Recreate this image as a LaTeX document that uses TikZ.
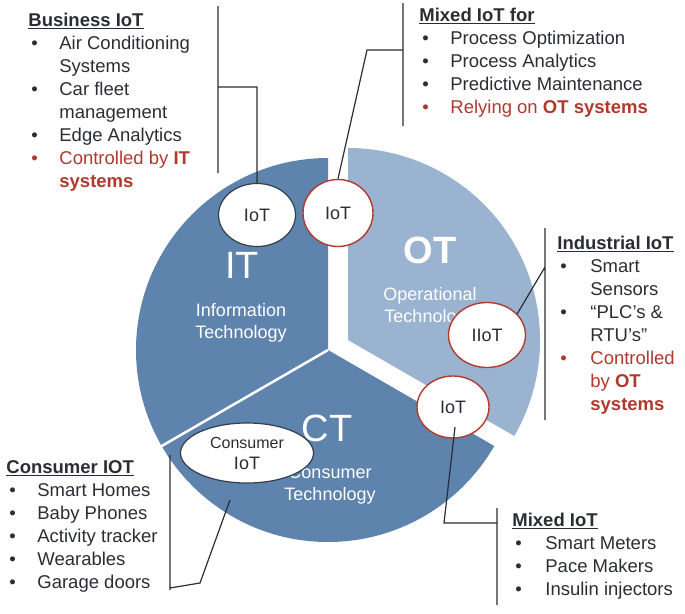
\documentclass[tikz,border=0pt]{standalone}
\usepackage{fontspec}
\setmainfont{Liberation Sans}
\usetikzlibrary{shapes.geometric}
\definecolor{sectorblue}{HTML}{5E83AC}
\definecolor{sectorlight}{HTML}{9AB3D0}
\definecolor{textdark}{HTML}{2A2D33}
\definecolor{textred}{HTML}{B0392E}
\definecolor{ringred}{HTML}{B33A2F}
\newcommand{\bul}{\hspace*{3pt}\textbullet}
\newcommand{\redbul}{\hspace*{3pt}\textcolor{textred}{\textbullet}}

\begin{document}
\begin{tikzpicture}[x=1pt, y=1pt,
	thick, list/.style={anchor=north west, inner sep=0pt, text=textdark,
		font=\fontsize{18.5}{23}\selectfont},
	red iot/.style={ellipse, draw=ringred, line width=1.4pt, fill=white, inner sep=0pt,
		text=textdark, font=\fontsize{18}{20}\selectfont},
	blue iot/.style={ellipse, draw=textdark!80!sectorblue, line width=1.2pt, fill=white, inner sep=0pt,
		text=textdark, font=\fontsize{18}{20}\selectfont},
	pie label/.style={text=white, align=center, font=\fontsize{18}{22}\selectfont},
	pie title/.style={text=white, font=\fontsize{38}{40}\selectfont},
	link/.style={draw=textdark, line width=1.2pt}]
	
	\useasboundingbox (0,0) rectangle (685,-613);
	
	% the three sectors
	\fill[sectorblue] (328,-350) -- ++(90:192) arc[start angle=90, end angle=330, radius=192] -- cycle;
	\fill[sectorlight] (348,-340) -- ++(-30:192) arc[start angle=-30, end angle=90, radius=192] -- cycle;
	\draw[white, line width=2.5pt] (328,-350) -- ++(210:194);
	
	\node[pie title] (it) at (242,-265) {IT};
	\node[pie label] (itname) at (241,-323) {Information\\Technology};
	\node[pie title, font=\bfseries\fontsize{38}{40}\selectfont] (ot) at (430,-250) {OT};
	\node[pie label] (otname) at (430,-307) {Operational\\Technology};
	\node[pie title] (ct) at (327,-428) {CT};
	\node[pie label] (ctname) at (330,-485) {Consumer\\Technology};
	
	% iot bubbles
	\node[blue iot, minimum width=77pt, minimum height=63pt] (itIoT) at (257,-215) {IoT};
	\node[red iot, minimum width=70pt, minimum height=67pt] (mixIoT) at (338,-213) {IoT};
	\node[red iot, minimum width=77pt, minimum height=65pt] (iIoT) at (487,-335) {IIoT};
	\node[red iot, minimum width=72pt, minimum height=62pt] (ctIoT) at (453,-407) {IoT};
	\node[blue iot, minimum width=133pt, minimum height=60pt, align=center,
		font=\fontsize{16}{21}\selectfont] (consIoT) at (247,-453) {Consumer\\\fontsize{18}{20}\selectfont IoT};
	
	% lists
	\node[list] (biz) at (28,-10) {\begin{tabular}{@{}p{31pt}@{}l@{}}
		\multicolumn{2}{@{}l}{\underline{\textbf{Business IoT}}}\\
		\bul & Air Conditioning\\
		 & Systems\\
		\bul & Car fleet\\
		 & management\\
		\bul & Edge Analytics\\
		\redbul & \textcolor{textred}{Controlled by \textbf{IT}}\\
		 & \textcolor{textred}{\textbf{systems}}
	\end{tabular}};
	\node[list] (mixfor) at (419,-5) {\begin{tabular}{@{}p{31pt}@{}l@{}}
		\multicolumn{2}{@{}l}{\underline{\textbf{Mixed IoT for}}}\\
		\bul & Process Optimization\\
		\bul & Process Analytics\\
		\bul & Predictive Maintenance\\
		\redbul & \textcolor{textred}{Relying on \textbf{OT systems}}
	\end{tabular}};
	\node[list] (ind) at (557,-233) {\begin{tabular}{@{}p{33pt}@{}l@{}}
		\multicolumn{2}{@{}l}{\underline{\textbf{Industrial IoT}}}\\
		\bul & Smart\\
		 & Sensors\\
		\bul & ``PLC's \&\\
		 & RTU's''\\
		\redbul & \textcolor{textred}{Controlled}\\
		 & \textcolor{textred}{by \textbf{OT}}\\
		 & \textcolor{textred}{\textbf{systems}}
	\end{tabular}};
	\node[list] (mixed) at (512,-510) {\begin{tabular}{@{}p{33pt}@{}l@{}}
		\multicolumn{2}{@{}l}{\underline{\textbf{Mixed IoT}}}\\
		\bul & Smart Meters\\
		\bul & Pace Makers\\
		\bul & Insulin injectors
	\end{tabular}};
	\node[list] (cons) at (6,-457) {\begin{tabular}{@{}p{31pt}@{}l@{}}
		\multicolumn{2}{@{}l}{\underline{\textbf{Consumer IOT}}}\\
		\bul & Smart Homes\\
		\bul & Baby Phones\\
		\bul & Activity tracker\\
		\bul & Wearables\\
		\bul & Garage doors
	\end{tabular}};
	
	% brackets and leaders
	\coordinate (bizTop) at (218,-6);
	\coordinate (bizBot) at (218,-173);
	\coordinate (bizJoin) at (218,-87);
	\coordinate (mixTop) at (403,-3);
	\coordinate (mixBot) at (403,-126);
	\coordinate (mixJoin) at (403,-50);
	\coordinate (mixBend) at (367,-50);
	\coordinate (indTop) at (545,-228);
	\coordinate (indBot) at (545,-420);
	\coordinate (indJoin) at (545,-267);
	\coordinate (mxTop) at (497,-508);
	\coordinate (mxBot) at (497,-605);
	\coordinate (mxJoin) at (497,-523);
	\coordinate (mxBend) at (444,-523);
	\coordinate (mxStart) at (455,-427);
	\coordinate (conTop) at (170,-455);
	\coordinate (conBot) at (170,-590);
	\coordinate (conJoin) at (170,-588);
	\coordinate (conBend) at (200,-583);
	\coordinate (conEnd) at (230,-500);
	
	\path[link] (bizTop) -- (bizBot)
	(bizJoin) -| (itIoT.north)
	(mixTop) -- (mixBot)
	(mixJoin) -- (mixBend) -- (mixIoT.north)
	(indTop) -- (indBot)
	(indJoin) -- (iIoT.35)
	(mxTop) -- (mxBot)
	(mxStart) -- (mxBend) -- (mxJoin)
	(conTop) -- (conBot)
	(conJoin) -- (conBend) -- (conEnd);
\end{tikzpicture}
\end{document}
